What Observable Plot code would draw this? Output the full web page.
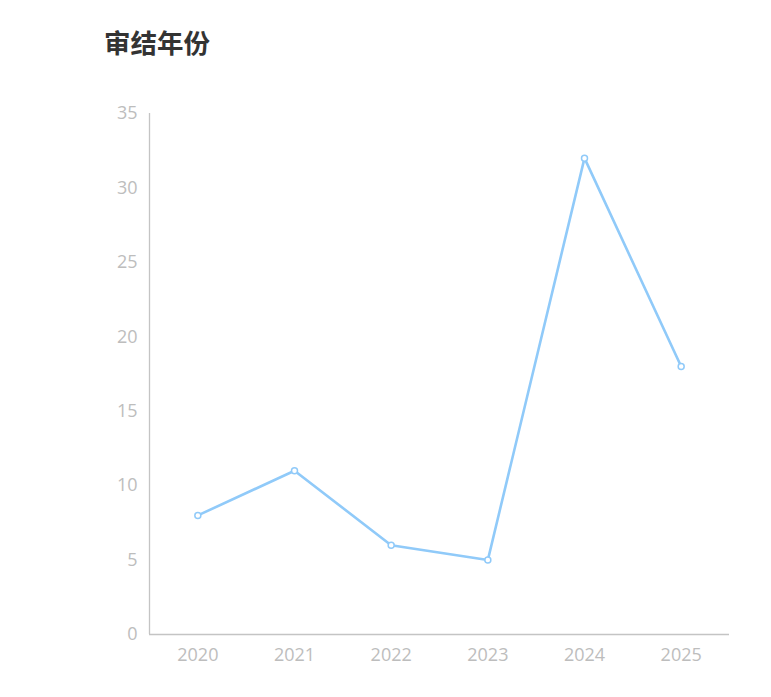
<!DOCTYPE html>
<html>
<head>
<meta charset="utf-8">
<script src="https://cdn.jsdelivr.net/npm/d3@7"></script>
<script src="https://cdn.jsdelivr.net/npm/@observablehq/plot@0.6"></script>
<style>
  body { margin: 0; background: #fff; font-family: "Noto Sans CJK SC", "Noto Sans", sans-serif; }
  #title { position: absolute; left: 104px; top: 24px; font-size: 26.5px; font-weight: bold; color: #333; line-height: 36px; }
  #chart { position: absolute; left: 0; top: 80px; }
</style>
</head>
<body>
<div id="title">审结年份</div>
<div id="chart"></div>
<script>
const years = [2020, 2021, 2022, 2023, 2024, 2025];
const counts = [8, 11, 6, 5, 32, 18];
const yTicks = [0, 5, 10, 15, 20, 25, 30, 35];

const data = years.map((y, i) => ({year: y, count: counts[i]}));
const lineColor = "#90caf9";

const chart = Plot.plot({
  width: 771,
  height: 617,
  marginTop: 33,
  marginBottom: 63,
  marginLeft: 149,
  marginRight: 42,
  style: {fontFamily: "'Open Sans', 'Noto Sans', sans-serif", fontSize: "18px", background: "#fff"},
  x: {domain: [2019.5, 2025.5]},
  y: {domain: [0, 35]},
  marks: [
    Plot.axisX({ticks: years, tickFormat: d => String(d), tickSize: 0, tickPadding: 14, fill: "#bdbdbd", label: null, fontSize: 18}),
    Plot.axisY({ticks: yTicks, tickSize: 0, tickPadding: 12, fill: "#bdbdbd", label: null, fontSize: 18}),
    Plot.ruleY([0], {stroke: "#c4c4c4", strokeWidth: 1.3}),
    Plot.ruleX([2019.5], {y1: 0, y2: 35, stroke: "#c4c4c4", strokeWidth: 1.3}),
    Plot.line(data, {x: "year", y: "count", stroke: lineColor, strokeWidth: 2.6}),
    Plot.dot(data, {x: "year", y: "count", r: 3, fill: "#fff", stroke: lineColor, strokeWidth: 1.5})
  ]
});
document.getElementById("chart").appendChild(chart);
</script>
</body>
</html>
